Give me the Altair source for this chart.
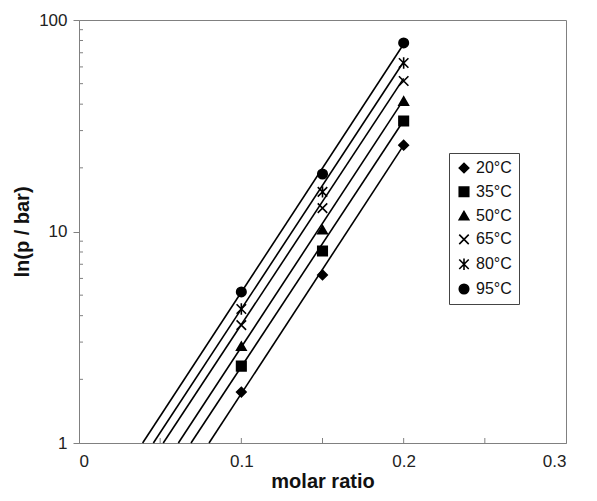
import altair as alt
import pandas as pd

# ---- data ----
temps = ["20°C", "35°C", "50°C", "65°C", "80°C", "95°C"]
x_points = [0.1, 0.15, 0.2]
p_20 = [1.74, 6.23, 25.6]
p_35 = [2.31, 8.09, 33.3]
p_50 = [2.87, 10.2, 41.4]
p_65 = [3.61, 12.9, 51.5]
p_80 = [4.30, 15.4, 62.6]
p_95 = [5.18, 18.7, 77.9]
series = [p_20, p_35, p_50, p_65, p_80, p_95]

# fitted lines: start where they cross p = 1, end at x = 0.2
fit_x_start = [0.0801, 0.0690, 0.0612, 0.0519, 0.0458, 0.0392]
fit_x_end = 0.2
fit_end_value = [25.6, 33.5, 42.0, 53.0, 63.5, 77.0]

y_minor = [2, 3, 4, 5, 6, 7, 8, 9, 20, 30, 40, 50, 60, 70, 80, 90]
x_minor = [0.05, 0.1, 0.15, 0.2, 0.25]

pts = pd.DataFrame([
    {"temp": t, "x": x, "p": v}
    for t, vals in zip(temps, series) for x, v in zip(x_points, vals)
])
lines = pd.DataFrame(
    [{"temp": t, "x": xs, "p": 1.0} for t, xs in zip(temps, fit_x_start)]
    + [{"temp": t, "x": fit_x_end, "p": ve} for t, ve in zip(temps, fit_end_value)]
)
ymin_df = pd.DataFrame({"p": y_minor})
xmin_df = pd.DataFrame({"x": x_minor})

FONT = "Liberation Sans"
AX = "#808080"
W, H = 487, 423

xscale = alt.Scale(domain=[0, 0.3], nice=False)
yscale = alt.Scale(type="log", domain=[1, 100], nice=False)

xaxis = alt.Axis(values=[0, 0.1, 0.2, 0.3], format="~g", title="molar ratio",
                 grid=False, ticks=False, domainColor=AX, labelFontSize=17,
                 labelColor="#222", labelPadding=10, titleFontSize=20,
                 titleFontWeight="bold", titleColor="#111", titlePadding=2,
                 labelFont=FONT, titleFont=FONT)
yaxis = alt.Axis(values=[1, 10, 100], format="d", title="ln(p / bar)",
                 grid=False, tickSize=6, tickColor=AX, domainColor=AX,
                 labelFontSize=17, labelColor="#222", labelPadding=6,
                 titleFontSize=20, titleFontWeight="bold", titleColor="#111",
                 titlePadding=6, labelFont=FONT, titleFont=FONT)

shapes = [
    "diamond", "square", "triangle-up",
    "M-1,-1L1,1M-1,1L1,-1",
    "M-1,-1L1,1M-1,1L1,-1M0,-1.2L0,1.2",
    "circle",
]

legend = alt.Legend(
    title=None, orient="none", legendX=370, legendY=133,
    strokeColor="#444", fillColor="white", padding=7,
    labelFontSize=16, labelFont=FONT, labelColor="#111",
    symbolSize=90, symbolStrokeWidth=1.6, symbolOpacity=1,
    rowPadding=7.8, labelOffset=4,
)
black_scale = alt.Scale(domain=temps, range=["black"] * len(temps))

line_layer = alt.Chart(lines).mark_line(color="black", strokeWidth=1.6).encode(
    x=alt.X("x:Q", scale=xscale, axis=xaxis),
    y=alt.Y("p:Q", scale=yscale, axis=yaxis),
    detail="temp:N",
)

point_layer = alt.Chart(pts).mark_point(
    filled=True, strokeWidth=1.6, size=90, opacity=1
).encode(
    x=alt.X("x:Q", scale=xscale, axis=xaxis),
    y=alt.Y("p:Q", scale=yscale, axis=yaxis),
    shape=alt.Shape("temp:N", scale=alt.Scale(domain=temps, range=shapes), legend=legend),
    fill=alt.Fill("temp:N", scale=black_scale, legend=legend),
    stroke=alt.Stroke("temp:N", scale=black_scale, legend=legend),
)

ytick_layer = alt.Chart(ymin_df).mark_rule(color=AX, strokeWidth=1).encode(
    y=alt.Y("p:Q", scale=yscale, axis=yaxis),
    x=alt.value(0),
    x2=alt.value(4),
)

xtick_layer = alt.Chart(xmin_df).mark_rule(color=AX, strokeWidth=1).encode(
    x=alt.X("x:Q", scale=xscale, axis=xaxis),
    y=alt.value(H),
    y2=alt.value(H - 5),
)

chart = alt.layer(ytick_layer, xtick_layer, line_layer, point_layer).properties(
    width=W, height=H,
    autosize=alt.AutoSizeParams(type="none"),
    padding={"left": 71, "top": 12, "right": 10, "bottom": 50},
).configure_view(stroke=AX, strokeWidth=1)

chart.save("out.html", embed_options={"renderer": "svg", "actions": False})
